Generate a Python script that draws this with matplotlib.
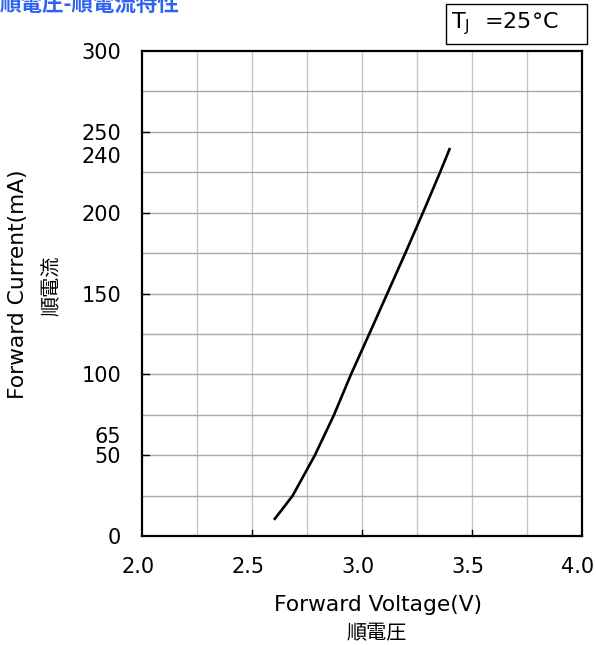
import matplotlib
matplotlib.use("Agg")
import matplotlib.pyplot as plt
from matplotlib.patches import Rectangle
from matplotlib.transforms import ScaledTranslation

# values
forward_voltage = [2.60, 2.64, 2.685, 2.786, 2.873, 2.950, 3.033, 3.115, 3.197, 3.277, 3.355, 3.40]
forward_current = [10, 17, 25, 50, 75, 100, 125, 150, 175, 200, 225, 240]

x_ticks = [2.0, 2.5, 3.0, 3.5, 4.0]
x_ticklabels = ["2.0", "2.5", "3.0", "3.5", "4.0"]
y_ticks = [0, 50, 65, 100, 150, 200, 240, 250, 300]
y_ticklabels = ["0", "50", "65", "100", "150", "200", "240", "250", "300"]
y_marked = [50, 100, 150, 200, 250]  # tick marks drawn only on these

W, H = 596, 645
fig = plt.figure(figsize=(W / 100, H / 100), dpi=100)
ax = fig.add_axes([142 / W, 1 - 536 / H, 440 / W, 485 / H])

# grid: every 0.25 V and every 25 mA
for v in [2.25, 2.5, 2.75, 3.0, 3.25, 3.5, 3.75]:
    ax.axvline(v, color="#c4c4c4", lw=1.0, zorder=1)
for c in range(25, 300, 25):
    ax.axhline(c, color="#a8a8a8", lw=1.0, zorder=1)

ax.plot(forward_voltage, forward_current, color="black", lw=1.9, zorder=3,
        solid_capstyle="butt", solid_joinstyle="round")

ax.set_xlim(2.0, 4.0)
ax.set_ylim(0, 300)
for s in ax.spines.values():
    s.set_linewidth(1.6)

ax.set_xticks(x_ticks)
ax.set_xticklabels(x_ticklabels, fontsize=15)
ax.set_yticks(y_ticks)
ax.set_yticklabels(y_ticklabels, fontsize=15)
ax.tick_params(axis="both", direction="in", length=0, pad=15)
# the x labels sit a few pixels left of their grid lines
shift = ScaledTranslation(-4 / 100, 0, fig.dpi_scale_trans)
for lab in ax.get_xticklabels():
    lab.set_transform(lab.get_transform() + shift)
# 240 and 65 sit a little below their values in the original
nudge = {"240": -7, "65": -4}
for lab in ax.get_yticklabels():
    dy = nudge.get(lab.get_text(), 0)
    if dy:
        lab.set_transform(lab.get_transform() +
                          ScaledTranslation(0, dy / 100, fig.dpi_scale_trans))

# short inward tick marks only at the regular positions
for c in y_marked:
    ax.plot([2.0, 2.03], [c, c], color="black", lw=1.0, zorder=2, clip_on=False)
for v in [2.5, 3.0, 3.5]:
    ax.plot([v, v], [0, 4], color="black", lw=1.0, zorder=2, clip_on=False)

jp = ["Noto Sans CJK JP", "DejaVu Sans"]

# axis titles
fig.text(18 / W, 1 - 284 / H, "Forward Current(mA)", rotation=90,
         ha="center", va="center", fontsize=15.7)
fig.text(52 / W, 1 - 286 / H, "順電流", rotation=90, family=jp,
         ha="center", va="center", fontsize=14.5)
fig.text(378 / W, 1 - 605 / H, "Forward Voltage(V)",
         ha="center", va="center", fontsize=15.7)
fig.text(377 / W, 1 - 634 / H, "順電圧", family=jp,
         ha="center", va="center", fontsize=14.5)

# chart title, clipped by the top edge
fig.text(0, 1 - 11 / H, "順電圧-順電流特性", family=jp, fontweight="bold",
         color="#2e62f0", ha="left", va="baseline", fontsize=15.5)

# temperature box
fig.patches.append(Rectangle((446 / W, 1 - 44 / H), 141 / W, 40 / H,
                             transform=fig.transFigure, fill=False,
                             edgecolor="black", lw=1.0))
fig.text(451 / W, 1 - 24 / H, r"T$_\mathregular{J}$  =25°C",
         ha="left", va="center", fontsize=16)

fig.savefig("out.png", dpi=100)
